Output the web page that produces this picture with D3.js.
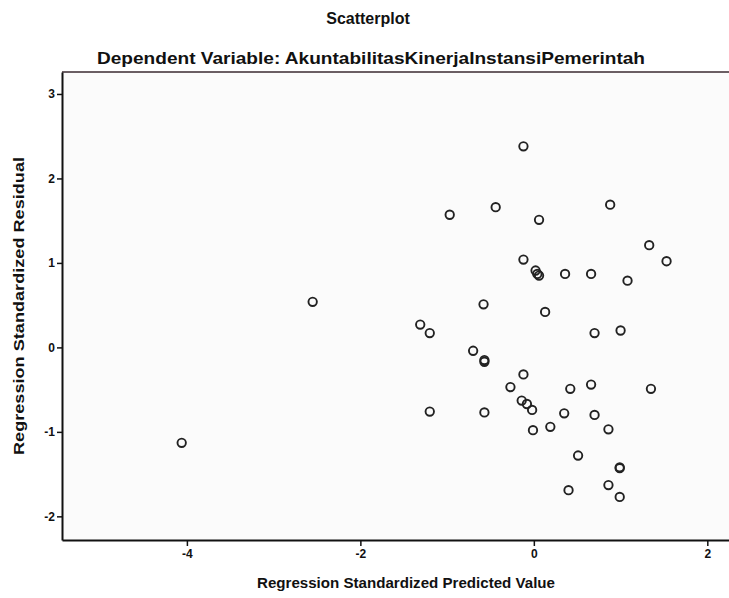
<!DOCTYPE html>
<html>
<head>
<meta charset="utf-8">
<script src="https://cdn.jsdelivr.net/npm/d3@7"></script>
<style>
  body { margin: 0; background: #fff; }
  svg text { font-family: "Liberation Sans", Arial, sans-serif; font-weight: bold; fill: #111; }
</style>
</head>
<body>
<div id="chart"></div>
<script>
// Regression standardized predicted value (x) and residual (y)
var predicted = [-4.06, -2.55, -1.31, -1.20, -1.20, -0.97, -0.44, -0.58, -0.70, -0.57,
  -0.57, -0.57, -0.12, -0.12, 0.06, 0.02, 0.06, 0.04, 0.36, 0.66,
  0.88, 1.33, 1.53, 1.08, 0.13, 0.70, 1.00, -0.12, -0.27, -0.14,
  -0.08, -0.02, -0.01, 0.19, 0.35, 0.42, 0.66, 0.70, 0.86, 1.35,
  0.51, 0.99, 0.99, 0.86, 0.40, 0.99];
var residual = [-1.13, 0.54, 0.27, 0.17, -0.76, 1.57, 1.66, 0.51, -0.04, -0.15,
  -0.17, -0.77, 2.38, 1.04, 1.51, 0.91, 0.85, 0.87, 0.87, 0.87,
  1.69, 1.21, 1.02, 0.79, 0.42, 0.17, 0.20, -0.32, -0.47, -0.63,
  -0.67, -0.74, -0.98, -0.94, -0.78, -0.49, -0.44, -0.80, -0.97, -0.49,
  -1.28, -1.43, -1.42, -1.63, -1.69, -1.77];
var xTicks = [-4, -2, 0, 2];
var yTicks = [-2, -1, 0, 1, 2, 3];

var width = 729, height = 598;
var margin = {top: 72, right: 0, bottom: 58, left: 62};

var svg = d3.select("#chart")
  .append("svg")
    .attr("width", width)
    .attr("height", height);

var x = d3.scaleLinear()
  .domain([-5.44, 2.25])
  .range([margin.left, width - margin.right]);

var y = d3.scaleLinear()
  .domain([-2.28, 3.26])
  .range([height - margin.bottom, margin.top]);

// plot background
svg.append("rect")
  .attr("x", margin.left)
  .attr("y", margin.top)
  .attr("width", width - margin.left - margin.right)
  .attr("height", height - margin.top - margin.bottom)
  .attr("fill", "#fbfbfb");

// top frame line
svg.append("line")
  .attr("x1", margin.left).attr("x2", width)
  .attr("y1", margin.top).attr("y2", margin.top)
  .attr("stroke", "#3a2a30")
  .attr("stroke-width", 1.5);

// X axis
var xAxis = svg.append("g")
  .attr("transform", "translate(0," + (height - margin.bottom) + ")")
  .call(d3.axisBottom(x).tickValues(xTicks).tickSize(6).tickSizeOuter(0).tickPadding(3));

// Y axis
var yAxis = svg.append("g")
  .attr("transform", "translate(" + margin.left + ",0)")
  .call(d3.axisLeft(y).tickValues(yTicks).tickSize(5).tickSizeOuter(0).tickPadding(2));

[xAxis, yAxis].forEach(function(g) {
  g.select(".domain").attr("stroke", "#111").attr("stroke-width", 2);
  g.selectAll(".tick line").attr("stroke", "#111").attr("stroke-width", 1.5);
  g.selectAll(".tick text")
    .style("font-size", "12px")
    .style("font-weight", "bold")
    .attr("fill", "#111")
    .text(function(d) { return d < 0 ? "-" + Math.abs(d) : d; });
});

// titles
svg.append("text")
  .attr("x", 368).attr("y", 24)
  .attr("text-anchor", "middle")
  .style("font-size", "16px")
  .text("Scatterplot");

svg.append("text")
  .attr("x", 371).attr("y", 64)
  .attr("text-anchor", "middle")
  .attr("textLength", 548)
  .attr("lengthAdjust", "spacingAndGlyphs")
  .style("font-size", "17px")
  .text("Dependent Variable: AkuntabilitasKinerjaInstansiPemerintah");

svg.append("text")
  .attr("x", 406).attr("y", 588)
  .attr("text-anchor", "middle")
  .attr("textLength", 298)
  .attr("lengthAdjust", "spacingAndGlyphs")
  .style("font-size", "15px")
  .text("Regression Standardized Predicted Value");

svg.append("text")
  .attr("transform", "translate(24,306) rotate(-90)")
  .attr("text-anchor", "middle")
  .attr("textLength", 298)
  .attr("lengthAdjust", "spacingAndGlyphs")
  .style("font-size", "15px")
  .text("Regression Standardized Residual");

// points
svg.append("g")
  .selectAll("circle")
  .data(predicted)
  .enter()
  .append("circle")
    .attr("cx", function(d) { return x(d); })
    .attr("cy", function(d, i) { return y(residual[i]); })
    .attr("r", 4.2)
    .attr("fill", "none")
    .attr("stroke", "#222")
    .attr("stroke-width", 1.9);
</script>
</body>
</html>
